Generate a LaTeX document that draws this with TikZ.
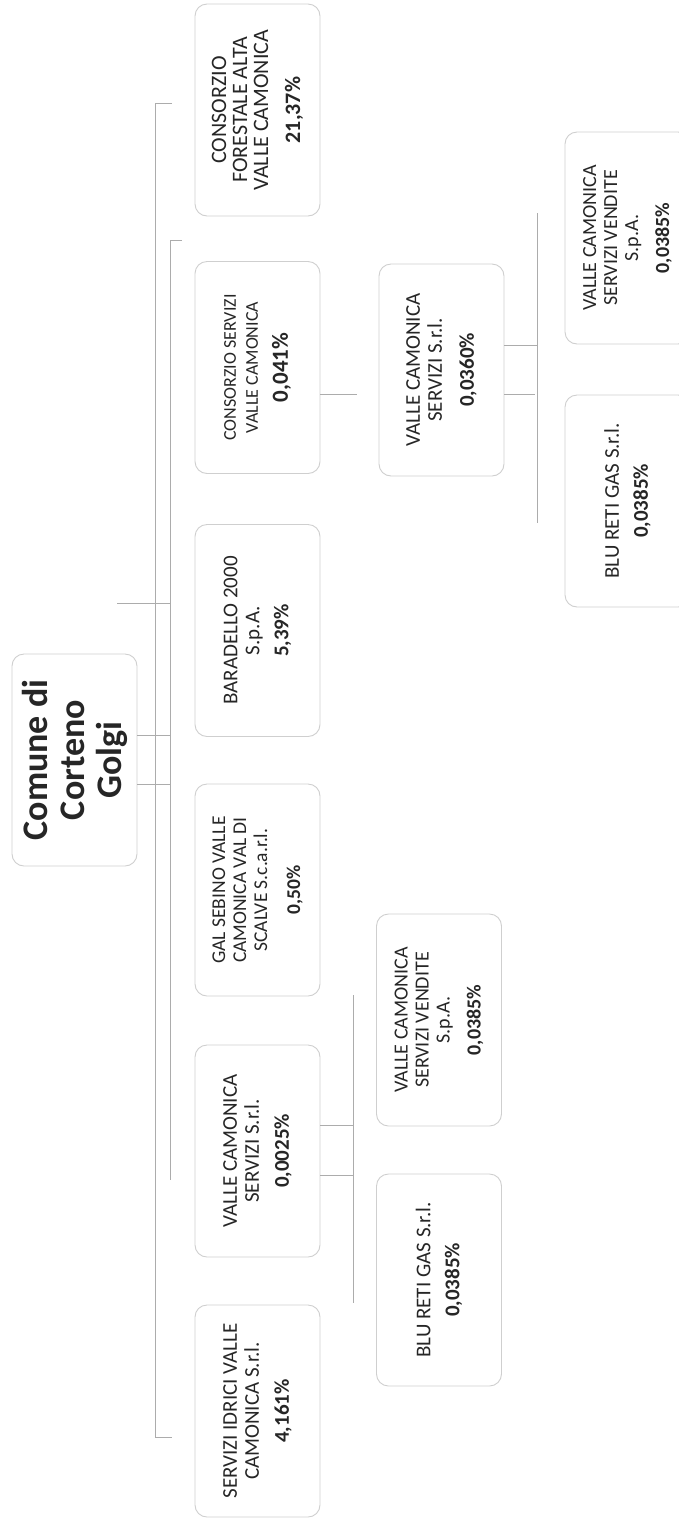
\documentclass[tikz,border=0pt]{standalone}
\usepackage{fontspec}
\setmainfont{Carlito}
\begin{document}
\begin{tikzpicture}[x=1pt,y=-1pt,
  box/.style={draw=gray!38, line width=0.9pt, rounded corners=12pt, fill=white,
    rotate=90, minimum width=212pt, minimum height=125pt, inner sep=2pt,
    align=center, text=black!85},
  conn/.style={draw=gray!65, line width=0.9pt}]
\useasboundingbox (0,0) rectangle (679,1524);

% root
\node[box, font=\fontsize{36}{37}\selectfont\bfseries] (root) at (74.5,760) {Comune di\\Corteno\\Golgi};

% level 1
\node[box, font=\fontsize{22}{21}\selectfont] (forestale) at (257.5,110)
  {CONSORZIO\\FORESTALE ALTA\\VALLE CAMONICA\\[11pt]\textbf{21,37\%}};
\node[box, font=\fontsize{18}{22}\selectfont] (cserv) at (257.5,367.5)
  {CONSORZIO SERVIZI\\VALLE CAMONICA\\[8pt]{\fontsize{23}{22}\selectfont\bfseries 0,041\%}};
\node[box, font=\fontsize{21}{22}\selectfont] (baradello) at (257.5,630.5)
  {BARADELLO 2000\\S.p.A.\\[7pt]\textbf{5,39\%}};
\node[box, font=\fontsize{19.5}{21}\selectfont] (gal) at (257.5,890)
  {GAL SEBINO VALLE\\CAMONICA VAL DI\\SCALVE S.c.a.r.l.\\[12pt]\textbf{0,50\%}};
\node[box, font=\fontsize{21}{22}\selectfont] (vcsa) at (257.5,1151)
  {VALLE CAMONICA\\SERVIZI S.r.l.\\[8pt]\textbf{0,0025\%}};
\node[box, font=\fontsize{21}{22}\selectfont] (idrici) at (257.5,1411)
  {SERVIZI IDRICI VALLE\\CAMONICA S.r.l.\\[8pt]\textbf{4,161\%}};

% level 2 (under consorzio servizi)
\node[box, font=\fontsize{21}{22}\selectfont] (vcsb) at (441.5,370)
  {VALLE CAMONICA\\SERVIZI S.r.l.\\[10pt]\textbf{0,0360\%}};
\node[box, font=\fontsize{20}{21}\selectfont] (vendb) at (627.5,238)
  {VALLE CAMONICA\\SERVIZI VENDITE\\S.p.A.\\[10pt]\textbf{0,0385\%}};
\node[box, font=\fontsize{21}{23}\selectfont] (blub) at (627.5,501)
  {BLU RETI GAS S.r.l.\\[6pt]\textbf{0,0385\%}};

% level 2 (under valle camonica servizi)
\node[box, font=\fontsize{20}{21}\selectfont] (venda) at (439,1020)
  {VALLE CAMONICA\\SERVIZI VENDITE\\S.p.A.\\[10pt]\textbf{0,0385\%}};
\node[box, font=\fontsize{21}{23}\selectfont] (blua) at (439,1280)
  {BLU RETI GAS S.r.l.\\[6pt]\textbf{0,0385\%}};

% connectors: root to buses
\coordinate (busAtop) at (155,103);
\coordinate (busAbot) at (155,1437);
\coordinate (busBtop) at (170,240);
\coordinate (busBbot) at (170,1180);
\draw[conn] (root.south |- 0,735) -- (busBtop |- 0,735);
\draw[conn] (root.south |- 0,784) -- (busBtop |- 0,784);
\draw[conn] (117,603) -- (busBtop |- 0,603);
\draw[conn] (busAtop) ++(17,0) -- (busAtop) -- (busAbot) -- ++(17,0);
\draw[conn] (busBtop) ++(12,0) -- (busBtop) -- (busBbot);

% consorzio servizi -> valle camonica servizi
\draw[conn] (cserv.south |- 0,394) -- (357,394);

% valle camonica servizi (0,0360) -> its bus
\coordinate (busCtop) at (537,213);
\coordinate (busCbot) at (537,523);
\draw[conn] (vcsb.south |- 0,345) -- (busCtop |- 0,345);
\draw[conn] (vcsb.south |- 0,394) -- (535,394);
\draw[conn] (busCtop) -- (busCbot);

% valle camonica servizi (0,0025) -> its bus
\coordinate (busDtop) at (353,995);
\coordinate (busDbot) at (353,1303);
\draw[conn] (vcsa.south |- 0,1125) -- (busDtop |- 0,1125);
\draw[conn] (vcsa.south |- 0,1175) -- (busDtop |- 0,1175);
\draw[conn] (busDtop) -- (busDbot);
\end{tikzpicture}
\end{document}
